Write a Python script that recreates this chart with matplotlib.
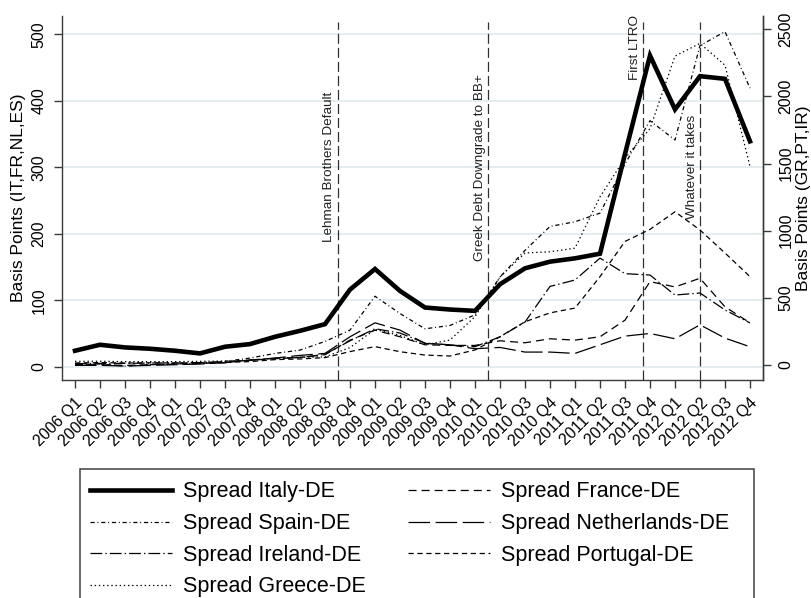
import matplotlib
matplotlib.use('Agg')
import matplotlib.pyplot as plt
from matplotlib.patches import Rectangle
import numpy as np

plt.rcParams['font.family'] = ['Liberation Sans', 'DejaVu Sans']
plt.rcParams['lines.scale_dashes'] = False

quarters = ["2006 Q1", "2006 Q2", "2006 Q3", "2006 Q4",
            "2007 Q1", "2007 Q2", "2007 Q3", "2007 Q4",
            "2008 Q1", "2008 Q2", "2008 Q3", "2008 Q4",
            "2009 Q1", "2009 Q2", "2009 Q3", "2009 Q4",
            "2010 Q1", "2010 Q2", "2010 Q3", "2010 Q4",
            "2011 Q1", "2011 Q2", "2011 Q3", "2011 Q4",
            "2012 Q1", "2012 Q2", "2012 Q3", "2012 Q4"]

# left axis (IT, FR, NL, ES)
italy = [24, 33, 29, 27, 24, 20, 30, 34, 45, 54, 64, 116, 147, 114, 89, 86,
         84, 124, 148, 158, 163, 170, 320, 468, 387, 437, 433, 339]
spain = [3, 4, 1, 3, 4, 5, 8, 13, 20, 25, 38, 55, 106, 80, 57, 62,
         78, 135, 175, 211, 218, 231, 305, 370, 341, 483, 504, 419]
france = [3, 3, 2, 3, 4, 5, 6, 10, 12, 14, 18, 40, 55, 45, 33, 32,
          32, 39, 36, 42, 40, 45, 70, 128, 120, 133, 90, 66]
netherlands = [2, 2, 1, 2, 3, 4, 6, 10, 13, 17, 20, 45, 66, 55, 35, 33,
               27, 29, 22, 22, 20, 33, 46, 50, 42, 63, 43, 30]
# right axis (GR, PT, IR)
greece = [27, 28, 25, 25, 25, 27, 30, 35, 50, 58, 60, 130, 265, 220, 150, 186,
          360, 655, 834, 843, 870, 1252, 1540, 1760, 2300, 2395, 2232, 1478]
portugal = [15, 18, 15, 16, 15, 16, 20, 25, 40, 45, 55, 100, 137, 99, 74, 67,
            112, 210, 322, 388, 424, 658, 920, 1010, 1141, 1005, 834, 658]
ireland = [10, 12, 12, 15, 15, 18, 25, 35, 50, 55, 80, 180, 270, 238, 164, 149,
           136, 210, 320, 585, 633, 796, 680, 670, 521, 536, 410, 313]

events = ["Lehman Brothers Default", "Greek Debt Downgrade to BB+",
          "First LTRO", "Whatever it takes"]
event_x = [10.5, 16.5, 22.7, 25.0]
event_label_y = [300, 300, 480, 300]

W, H = 811, 598
fig = plt.figure(figsize=(W / 100, H / 100), dpi=100)
L, R, T, B = 62, 763, 16, 380
ax = fig.add_axes([L / W, 1 - B / H, (R - L) / W, (B - T) / H])
ax2 = ax.twinx()

x = np.arange(len(quarters))
thin = 0.9
axcol = '#3a3a3a'

h_it, = ax.plot(x, italy, color='black', lw=3.3, solid_joinstyle='miter', zorder=5)
h_fr, = ax.plot(x, france, color='black', lw=thin, dashes=(5.8, 3.6))
h_es, = ax.plot(x, spain, color='black', lw=thin, dashes=(3.0, 2.0, 0.7, 2.0))
h_nl, = ax.plot(x, netherlands, color='black', lw=thin, dashes=(15.5, 4.0))
h_ie, = ax2.plot(x, ireland, color='black', lw=thin, dashes=(8.5, 2.2, 1.0, 2.2))
h_pt, = ax2.plot(x, portugal, color='black', lw=thin, dashes=(3.8, 2.6))
h_gr, = ax2.plot(x, greece, color='black', lw=thin, dashes=(1.0, 2.0))

ax.set_xlim(-0.52, 27.52)
ax.set_ylim(-20, 527.5)
ax2.set_ylim(-111.7, 2598.7)

ax.set_yticks([0, 100, 200, 300, 400, 500])
ax2.set_yticks([0, 500, 1000, 1500, 2000, 2500])
ax.yaxis.grid(True, color='#e4ecef', lw=1.3)
ax.set_axisbelow(True)

ax.set_xticks(x)
ax.set_xticklabels(quarters, rotation=45, ha='right', va='top',
                   rotation_mode='anchor', fontsize=11.5)

for a in (ax, ax2):
    a.spines['top'].set_visible(False)
    for s in a.spines.values():
        s.set_color(axcol)
        s.set_linewidth(1.0)
    a.tick_params(length=6, width=1.0, color=axcol, labelsize=11.5)
ax2.spines['left'].set_visible(False)
ax2.spines['bottom'].set_visible(False)
ax.tick_params(axis='x', pad=5)

plt.setp(ax.get_yticklabels(), rotation=90, va='center')
plt.setp(ax2.get_yticklabels(), rotation=90, va='center')
ax.tick_params(axis='y', pad=5)
ax2.tick_params(axis='y', pad=5)

ax.set_ylabel("Basis Points (IT,FR,NL,ES)", fontsize=12.5, labelpad=4)
ax2.set_ylabel("Basis Points (GR,PT,IR)", fontsize=12.5, labelpad=2)

ymax_frac = (B - 22) / (B - T)
for xv, lab, yv in zip(event_x, events, event_label_y):
    ax.axvline(xv, ymin=0, ymax=ymax_frac, color='#303030', lw=0.9, dashes=(7.2, 2.9))
    ax.text(xv - 0.08, yv, lab, rotation=90, ha='right', va='center',
            fontsize=9.7, color='#202020')

handles = [h_it, h_es, h_ie, h_gr, h_fr, h_nl, h_pt]
labels = ["Spread Italy-DE", "Spread Spain-DE", "Spread Ireland-DE", "Spread Greece-DE",
          "Spread France-DE", "Spread Netherlands-DE", "Spread Portugal-DE"]
fig.legend(handles, labels, ncol=2, loc='upper left',
           bbox_to_anchor=(90 / W, 1 - 481.5 / H), frameon=False, fontsize=15.5,
           handlelength=3.8, handletextpad=0.5, columnspacing=2.0,
           labelspacing=0.49, borderpad=0, borderaxespad=0)
fig.add_artist(Rectangle((80 / W, 1 - 640 / H), (754 - 80) / W, (640 - 469) / H,
                         transform=fig.transFigure, fill=False,
                         edgecolor='#404040', lw=1.1, clip_on=False))

fig.savefig('out.png', dpi=100)
